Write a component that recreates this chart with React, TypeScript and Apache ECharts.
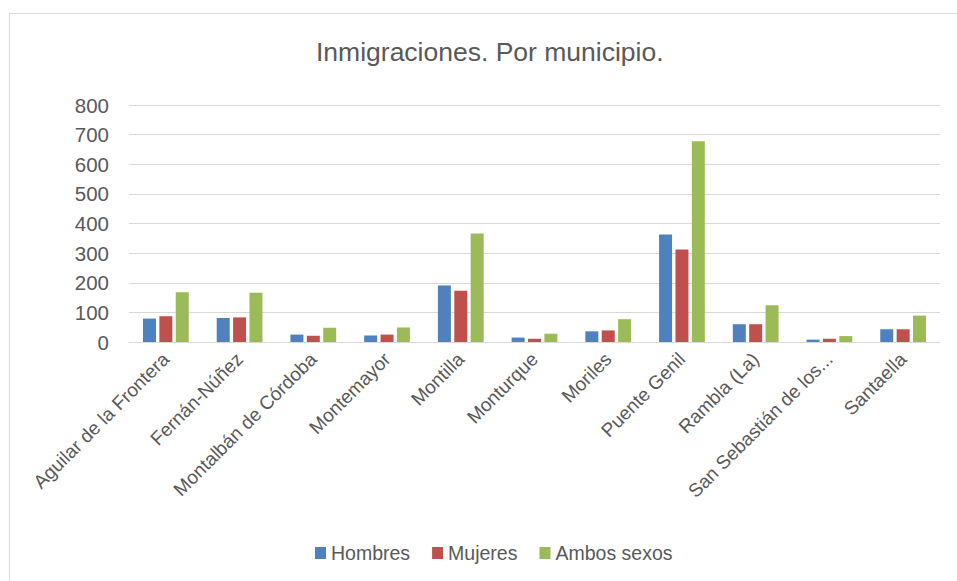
import React, { useEffect, useRef } from "react";
import * as echarts from "echarts";

const title = "Inmigraciones. Por municipio.";
const municipios = [
  "Aguilar de la Frontera",
  "Fernán-Núñez",
  "Montalbán de Córdoba",
  "Montemayor",
  "Montilla",
  "Monturque",
  "Moriles",
  "Puente Genil",
  "Rambla (La)",
  "San Sebastián de los Ballesteros",
  "Santaella",
];
const hombres = [79, 81, 25, 22, 191, 15, 36, 363, 60, 8, 43];
const mujeres = [87, 83, 21, 25, 173, 11, 39, 312, 60, 11, 43];
const ambosSexos = [168, 166, 48, 49, 366, 28, 77, 678, 124, 20, 89];
const yTicks = { min: 0, max: 800, interval: 100 };

const FONT = "'Liberation Sans', Arial, sans-serif";
const TXT = "#595959";

export default function App() {
  const ref = useRef<HTMLDivElement>(null);
  useEffect(() => {
    if (!ref.current) return;
    const chart = echarts.init(ref.current, undefined, { renderer: "svg" });
    chart.setOption({
      animation: false,
      backgroundColor: "#ffffff",
      textStyle: { fontFamily: FONT },
      title: {
        text: title,
        left: 316,
        top: 38,
        padding: 0,
        textStyle: { fontFamily: FONT, fontSize: 26.5, fontWeight: "normal", color: TXT },
      },
      graphic: [
        {
          type: "rect",
          shape: { x: 9.5, y: 13.5, width: 980, height: 620 },
          style: { fill: "none", stroke: "#d9d9d9", lineWidth: 1 },
          silent: true,
          z: -1,
        },
      ],
      legend: {
        left: 315,
        top: 543,
        padding: 0,
        itemWidth: 11,
        itemHeight: 12,
        itemGap: 22,
        icon: "rect",
        textStyle: { fontFamily: FONT, fontSize: 19.5, color: TXT },
        data: ["Hombres", "Mujeres", "Ambos sexos"],
      },
      grid: { left: 129, right: 17, top: 105, bottom: 239, containLabel: false },
      xAxis: {
        type: "category",
        data: municipios,
        axisLine: { lineStyle: { color: "#d9d9d9", width: 1 } },
        axisTick: { show: false },
        axisLabel: {
          interval: 0,
          rotate: 45,
          margin: 14,
          fontFamily: FONT,
          fontSize: 19,
          color: TXT,
          formatter: (v: string) => (v.length > 24 ? v.slice(0, 20) + "..." : v),
        },
      },
      yAxis: {
        type: "value",
        min: yTicks.min,
        max: yTicks.max,
        interval: yTicks.interval,
        axisLine: { show: false },
        axisTick: { show: false },
        splitLine: { lineStyle: { color: "#d9d9d9", width: 1 } },
        axisLabel: { margin: 20, fontFamily: FONT, fontSize: 20.5, color: TXT },
      },
      series: [
        { name: "Hombres", type: "bar", data: hombres, barWidth: 13, barGap: "26%", itemStyle: { color: "#4f81bd" } },
        { name: "Mujeres", type: "bar", data: mujeres, barWidth: 13, barGap: "26%", itemStyle: { color: "#c0504d" } },
        { name: "Ambos sexos", type: "bar", data: ambosSexos, barWidth: 13, barGap: "26%", itemStyle: { color: "#9bbb59" } },
      ],
    });
    return () => chart.dispose();
  }, []);
  return (
    <div
      ref={ref}
      style={{ position: "absolute", left: 0, top: 0, width: 957, height: 581 }}
    />
  );
}
